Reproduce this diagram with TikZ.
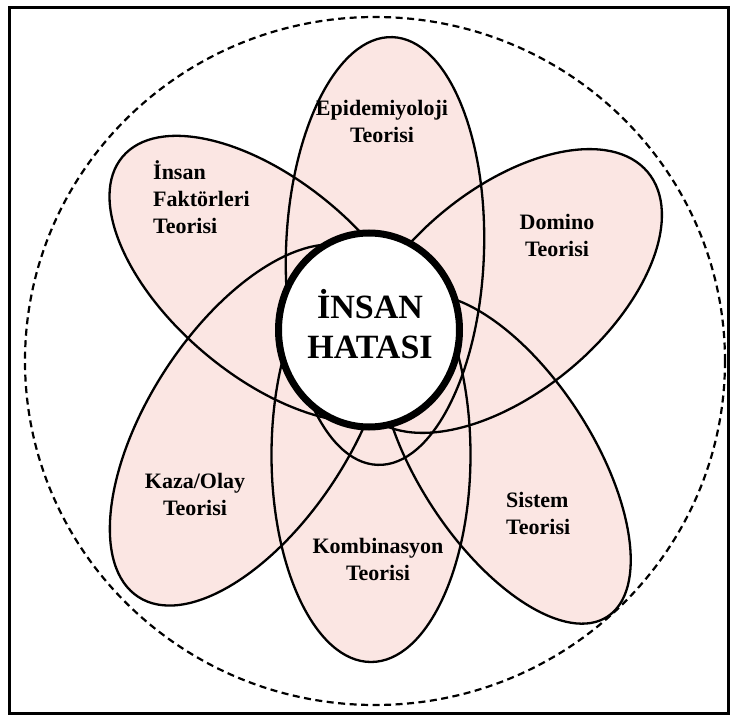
\documentclass[tikz,border=0pt]{standalone}
\usepackage{fontspec}
\setmainfont{Liberation Serif}
\usetikzlibrary{shapes.geometric}
\definecolor{petal}{RGB}{251,230,227}
\begin{document}
\begin{tikzpicture}[x=1pt,y=-1pt,
  petalfill/.style={fill=petal,draw=none},
  petalline/.style={draw=black,line width=2.3pt},
  lbl/.style={font=\bfseries\fontsize{22}{27}\selectfont, inner sep=0pt, align=center},
]
\fill[white] (0,0) rectangle (732,717);
\useasboundingbox (0,0) rectangle (732,717);

% centres of the petals
\coordinate (cEpi) at (385,251);
\coordinate (cKom) at (371,455);
\coordinate (cIns) at (268,279);
\coordinate (cDom) at (506,291);
\coordinate (cKaz) at (250,425);
\coordinate (cSis) at (505,459);
\coordinate (cOut) at (375,361);

% outer frame and dashed circle
\draw[line width=3pt] (9,8) rectangle (728,713);
\draw[line width=2.2pt, dash pattern=on 7pt off 4.5pt] (cOut) ellipse [x radius=350pt, y radius=344pt];

% petal fills
\path[petalfill, rotate around={-2:(cEpi)}] (cEpi) ellipse [x radius=99pt, y radius=214pt];
\path[petalfill] (cKom) ellipse [x radius=99.5pt, y radius=207pt];
\path[petalfill, rotate around={-40:(cIns)}] (cIns) ellipse [x radius=190pt, y radius=97.5pt];
\path[petalfill, rotate around={40:(cDom)}] (cDom) ellipse [x radius=185pt, y radius=101pt];
\path[petalfill, rotate around={57:(cKaz)}] (cKaz) ellipse [x radius=205pt, y radius=101pt];
\path[petalfill, rotate around={-57:(cSis)}] (cSis) ellipse [x radius=188pt, y radius=87pt];

% petal outlines
\path[petalline, rotate around={-2:(cEpi)}] (cEpi) ellipse [x radius=99pt, y radius=214pt];
\path[petalline] (cKom) ellipse [x radius=99.5pt, y radius=207pt];
\path[petalline, rotate around={-40:(cIns)}] (cIns) ellipse [x radius=190pt, y radius=97.5pt];
\path[petalline, rotate around={40:(cDom)}] (cDom) ellipse [x radius=185pt, y radius=101pt];
\path[petalline, rotate around={57:(cKaz)}] (cKaz) ellipse [x radius=205pt, y radius=101pt];
\path[petalline, rotate around={-57:(cSis)}] (cSis) ellipse [x radius=188pt, y radius=87pt];

% centre
\node[ellipse, draw, line width=7pt, fill=white, minimum width=181pt, minimum height=194pt, inner sep=0pt] (hata) at (369,330) {};
\node[font=\bfseries\fontsize{34}{40}\selectfont, align=center, inner sep=0pt] (hatatext) at (370,324) {İNSAN\\HATASI};

% labels
\node[lbl] (lEpi) at (382,121) {Epidemiyoloji\\Teorisi};
\node[lbl, align=left, anchor=west] (lIns) at (153,197) {İnsan\\Faktörleri\\Teorisi};
\node[lbl] (lDom) at (557,235) {Domino\\Teorisi};
\node[lbl] (lKaz) at (195,494) {Kaza/Olay\\Teorisi};
\node[lbl, align=left, anchor=west] (lSis) at (506,513) {Sistem\\Teorisi};
\node[lbl] (lKom) at (378,559) {Kombinasyon\\Teorisi};
\end{tikzpicture}
\end{document}
